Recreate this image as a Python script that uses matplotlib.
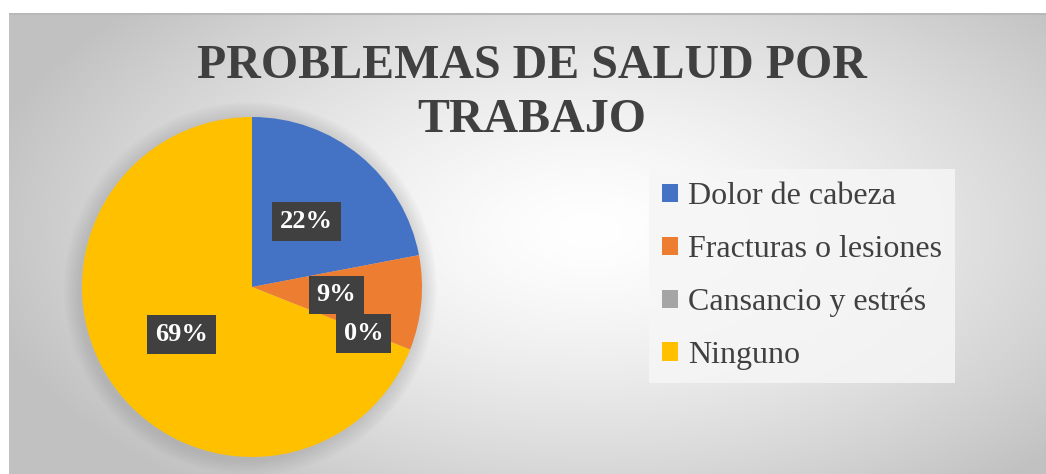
import numpy as np
import matplotlib.pyplot as plt
from matplotlib.patches import Circle

categorias = ['Dolor de cabeza', 'Fracturas o lesiones', 'Cansancio y estrés', 'Ninguno']
porcentajes = [22, 9, 0, 69]
colores = ['#4472c4', '#ed7d31', '#a5a5a5', '#ffc000']
titulo = 'PROBLEMAS DE SALUD POR\nTRABAJO'

W, H = 1046, 474
fig = plt.figure(figsize=(W / 100, H / 100), dpi=100)
fig.patch.set_facecolor('white')

# fondo con degradado radial
bg = fig.add_axes([9 / W, 0, 1 - 9 / W, (H - 13) / H])
yy, xx = np.mgrid[13:H, 9:W]
d = np.sqrt(((xx - 590) / 620.0) ** 2 + ((yy - 230) / 330.0) ** 2)
g = 1.0 - 0.24 * np.clip(d, 0, 1) ** 1.4
bg.imshow(np.dstack([g, g, g]), aspect='auto', extent=[0, 1, 0, 1])
bg.plot([0, 1], [0.997, 0.997], color='#b8b8b8', lw=1.5)
bg.set_xlim(0, 1), bg.set_ylim(0, 1)
bg.axis('off')

fig.text(532 / W, 1 - 93 / H, titulo, ha='center', va='center', fontsize=34.5,
         fontweight='bold', family='Liberation Serif', color='#404040', linespacing=1.27)

r = 170
ax = fig.add_axes([(252 - r) / W, (H - 287 - r) / H, 2 * r / W, 2 * r / H])

wedges, _ = ax.pie(porcentajes, colors=colores, startangle=90, counterclock=False,
                   radius=1, wedgeprops=dict(linewidth=0))
ax.set_xlim(-1, 1), ax.set_ylim(-1, 1)
ax.axis('off')

# sombra suave del pastel
for k in range(8, 0, -1):
    ax.add_patch(Circle((-0.01, -0.01), 1 + 0.012 * k, color='#808080', alpha=0.035,
                        lw=0, zorder=0, clip_on=False))

for w, p in zip(wedges, porcentajes):
    ang = np.deg2rad((w.theta1 + w.theta2) / 2)
    x, y = 0.5 * np.cos(ang), 0.5 * np.sin(ang)
    if p == 0:
        x, y = x + 0.19, y - 0.09
    ax.text(x, y, f'{p}%', ha='center', va='center', fontsize=19, fontweight='bold',
            family='Liberation Serif', color='white', zorder=5,
            bbox=dict(boxstyle='square,pad=0.3', facecolor='#404040', edgecolor='none'))

leg = fig.legend(wedges, categorias, loc='upper left', bbox_to_anchor=(649 / W, 1 - 169 / H),
                 prop=dict(family='Liberation Serif', size=23), frameon=True, fancybox=False,
                 facecolor='#f6f6f6', edgecolor='none', framealpha=0.85,
                 handlelength=0.5, handleheight=0.5, handletextpad=0.3,
                 labelspacing=0.74, borderpad=0.42, borderaxespad=0)
for t in leg.get_texts():
    t.set_color('#404040')

fig.savefig('out.png', dpi=100)
